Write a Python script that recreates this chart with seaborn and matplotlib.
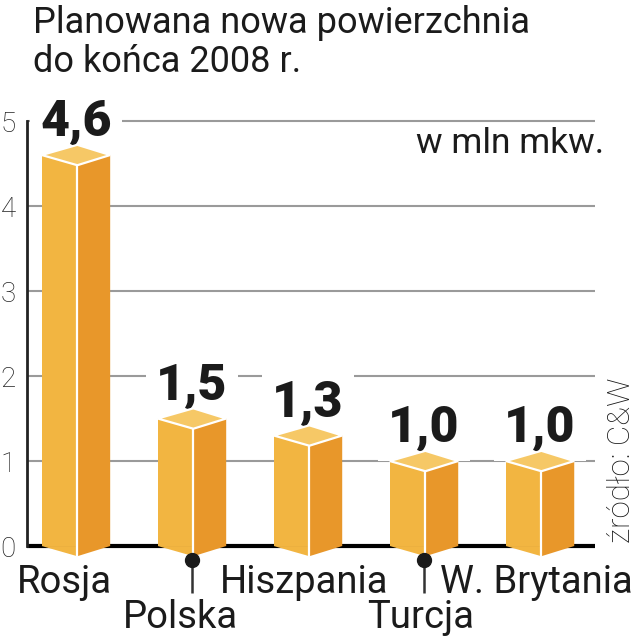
import pandas as pd
import seaborn as sns
import matplotlib.pyplot as plt
from matplotlib.patches import Polygon

# dane
kraje = ['Rosja', 'Polska', 'Hiszpania', 'Turcja', 'W. Brytania']
wartosci = [4.6, 1.5, 1.3, 1.0, 1.0]
etykiety = ['4,6', '1,5', '1,3', '1,0', '1,0']
drugi_rzad = [False, True, False, True, False]

df = pd.DataFrame({'kraj': kraje, 'wartosc': wartosci})

sns.set_style('white')
plt.rcParams['font.family'] = ['Roboto', 'DejaVu Sans']

c_front = '#F2B541'
c_side = '#E8972A'
c_top = '#F6C866'
ink = '#1b1b1b'

fig = plt.figure(figsize=(6.38, 6.4), dpi=100)
ax = fig.add_axes([27 / 638, 1 - 600 / 640, (595 - 27) / 638, 510 / 640])

sns.barplot(data=df, x='kraj', y='wartosc', color=c_front, width=0.59,
            saturation=1, linewidth=0, zorder=3, ax=ax)

d = 0.12  # perspektywa gornej sciany
for p in ax.patches[:len(kraje)]:
    x0, w, v = p.get_x(), p.get_width(), p.get_height()
    xf, x1 = x0 + w * 0.52, x0 + w
    # dolny trojkat lewej sciany
    ax.add_patch(Polygon([(x0, 0), (xf, -d), (xf, 0)], closed=True,
                         facecolor=c_front, edgecolor='none', zorder=3))
    # prawa sciana
    ax.add_patch(Polygon([(xf, v - d), (x1, v), (x1, 0), (xf, -d)], closed=True,
                         facecolor=c_side, edgecolor='none', zorder=3))
    # gora
    ax.add_patch(Polygon([(x0, v), (xf, v + d), (x1, v), (xf, v - d)], closed=True,
                         facecolor=c_top, edgecolor='white', linewidth=1.6,
                         joinstyle='miter', zorder=4))
    ax.plot([xf, xf], [-d, v - d], color='white', lw=1.6, zorder=4)

# etykiety wartosci
for i, (v, t) in enumerate(zip(wartosci, etykiety)):
    ax.text(i, v + 0.23, t, ha='center', va='baseline', fontsize=36,
            fontweight='black', color=ink, zorder=2,
            bbox=dict(boxstyle='square,pad=0.2', fc='white', ec='none'))

# nazwy krajow
for i, (k, r2) in enumerate(zip(kraje, drugi_rzad)):
    y = -0.965 if r2 else -0.553
    dx = -0.1 if i < 2 else -0.03
    ax.text(i + dx, y, k, ha='center', va='baseline', fontsize=27.5, color=ink)
    if r2:
        ax.plot([i, i], [-0.165, -0.55], color='#333333', lw=1.8, zorder=5,
                solid_capstyle='butt')
        ax.plot(i, -0.165, 'o', color=ink, ms=10, zorder=6)

# siatka
for g in range(1, 6):
    ax.axhline(g, color='#9a9a9a', lw=1.5, zorder=1)
ax.axhline(0, color='black', lw=3, zorder=1)

ax.set_xlim(-0.422, 4.474)
ax.set_ylim(-0.635, 5.365)
ax.set_xlabel('')
ax.set_ylabel('')
ax.set_xticks([])
ax.set_yticks(range(6))
ax.tick_params(axis='y', length=0, pad=8, labelsize=20, labelcolor='#222222')
for lab in ax.get_yticklabels():
    lab.set_fontweight('light')
for s in ['top', 'right', 'bottom']:
    ax.spines[s].set_visible(False)
ax.spines['left'].set_bounds(0, 5)
ax.spines['left'].set_color('#222222')
ax.spines['left'].set_linewidth(2)
ax.spines['left'].set_zorder(2)

fig.text(33 / 638, 1 - 33 / 640, 'Planowana nowa powierzchnia', fontsize=26,
         color=ink, va='baseline')
fig.text(33 / 638, 1 - 72 / 640, 'do końca 2008 r.', fontsize=26,
         color=ink, va='baseline')
fig.text(604 / 638, 1 - 153 / 640, 'w mln mkw.', fontsize=25.5, color=ink,
         ha='right', va='baseline')
fig.text(621 / 638, 1 - 460 / 640, 'źródło: C&W', fontsize=22.5, color=ink,
         fontweight='light', rotation=90, ha='center', va='center')

fig.savefig('out.png', dpi=100)
